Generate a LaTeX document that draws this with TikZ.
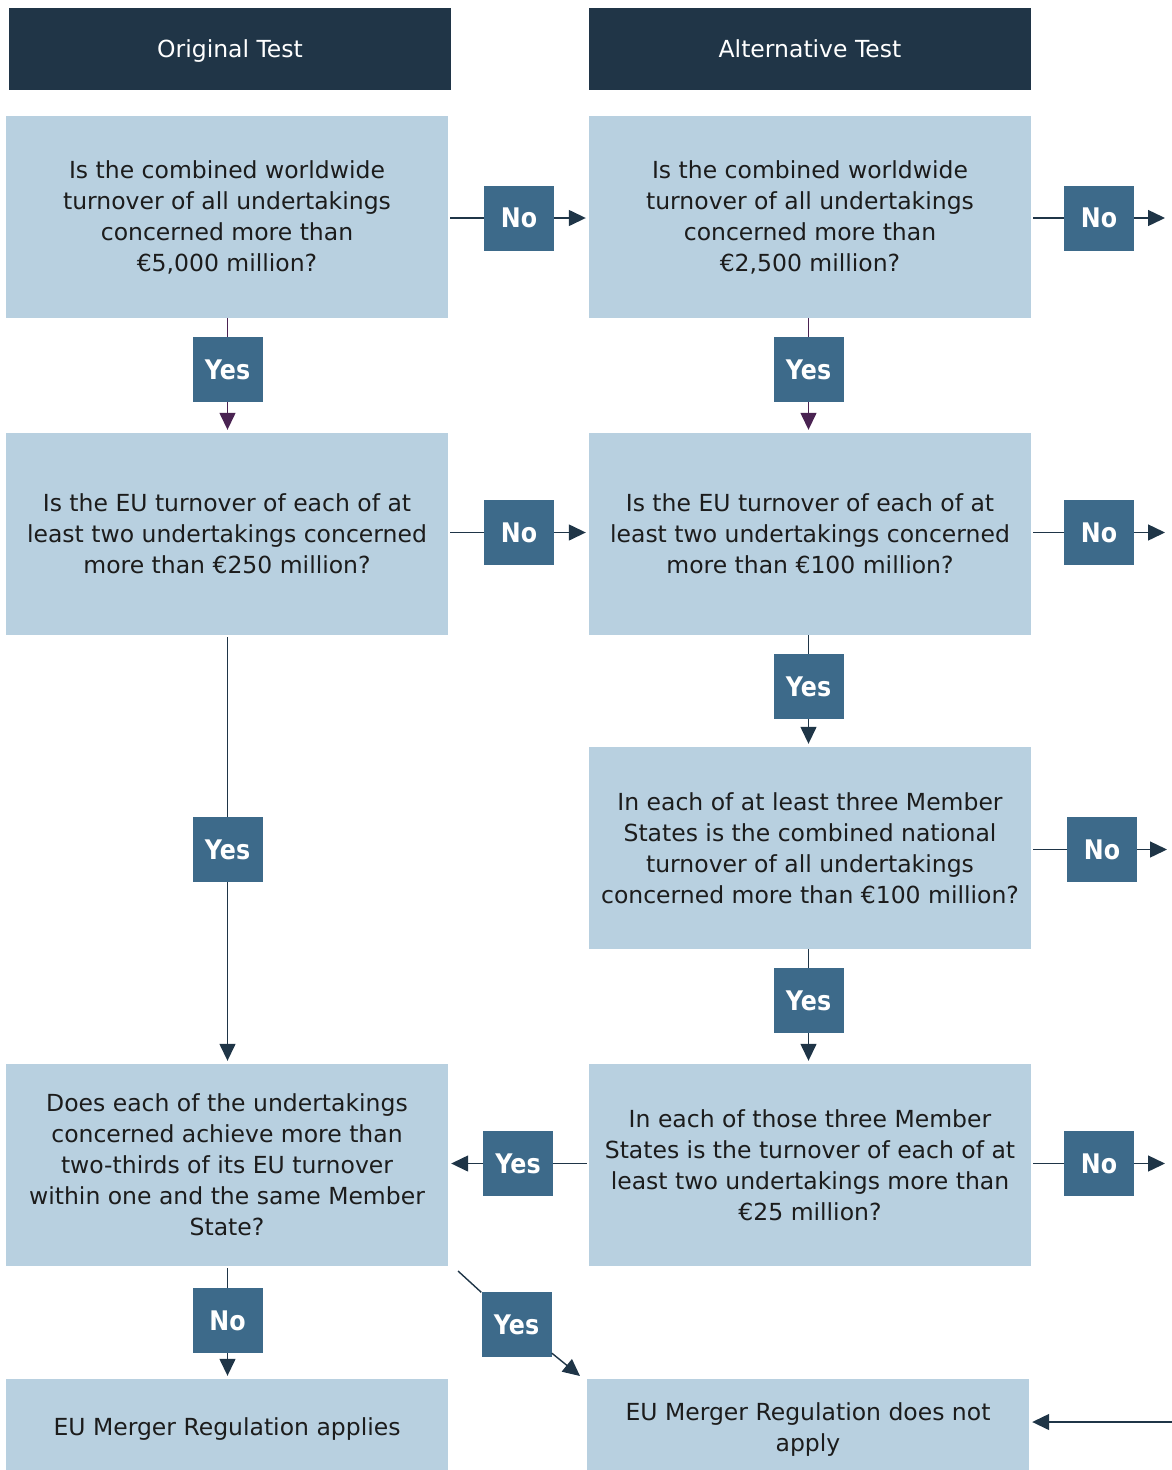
\documentclass[tikz,border=0pt]{standalone}
\usepackage{fontspec}
\setmainfont{DejaVu Sans}
\newfontfamily\labfont[FakeStretch=0.88]{DejaVu Sans Bold}
\usetikzlibrary{arrows.meta}
\definecolor{hdr}{HTML}{203547}
\definecolor{qfill}{HTML}{B8D0E0}
\definecolor{lab}{HTML}{3D6A8A}
\definecolor{purp}{HTML}{4A2352}
\definecolor{dark}{HTML}{1F3547}
\definecolor{txt}{HTML}{1C1C1C}
\tikzset{
  hbox/.style={fill=hdr, text=white, minimum width=442pt, minimum height=82pt, inner sep=0pt,
    text height=21pt, text depth=5pt, font=\fontsize{23.5pt}{31pt}\selectfont},
  qbox/.style={fill=qfill, text=txt, minimum width=442pt, minimum height=202pt, inner sep=0pt,
    align=center, font=\fontsize{23.5pt}{31pt}\selectfont},
  lbox/.style={fill=lab, text=white, minimum width=70pt, minimum height=65pt, inner sep=0pt,
    font=\labfont\fontsize{27pt}{30pt}\selectfont},
  ln/.style={draw=dark, line width=1.4pt, shorten <=2pt},
  arr/.style={draw=dark, line width=1.4pt, -{Triangle[length=17pt,width=16pt]}, shorten >=3pt},
  parr/.style={draw=purp, line width=1.4pt, -{Triangle[length=17pt,width=16pt]}, shorten >=3pt},
}
\begin{document}
\begin{tikzpicture}[x=1pt,y=-1pt]
\useasboundingbox (0,0) rectangle (1172,1470);
% headers
\node[hbox] (h1) at (230,49) {Original Test};
\node[hbox] (h2) at (810,49) {Alternative Test};
% question boxes
\node[qbox] (b1) at (227,217) {Is the combined worldwide\\turnover of all undertakings\\concerned more than\\€5,000 million?};
\node[qbox] (b2) at (810,217) {Is the combined worldwide\\turnover of all undertakings\\concerned more than\\€2,500 million?};
\node[qbox] (b3) at (227,534) {Is the EU turnover of each of at\\least two undertakings concerned\\more than €250 million?};
\node[qbox] (b4) at (810,534) {Is the EU turnover of each of at\\least two undertakings concerned\\more than €100 million?};
\node[qbox] (b5) at (810,848) {In each of at least three Member\\States is the combined national\\turnover of all undertakings\\concerned more than €100 million?};
\node[qbox] (b6) at (227,1165) {Does each of the undertakings\\concerned achieve more than\\two-thirds of its EU turnover\\within one and the same Member\\State?};
\node[qbox] (b7) at (810,1165) {In each of those three Member\\States is the turnover of each of at\\least two undertakings more than\\€25 million?};
\node[qbox, minimum height=91pt, text height=28pt, text depth=5.6pt] (b8) at (227,1424.5) {EU Merger Regulation applies};
\node[qbox, minimum height=91pt, text height=58.8pt, text depth=5.6pt] (b9) at (808,1424.5) {EU Merger Regulation does not\\apply};
% label boxes
\node[lbox] (n1) at (519,218) {No};
\node[lbox] (n2) at (1099,218) {No};
\node[lbox] (y1) at (227.5,369.5) {Yes};
\node[lbox] (y2) at (808.5,369.5) {Yes};
\node[lbox] (n3) at (519,532.5) {No};
\node[lbox] (n4) at (1099,532.5) {No};
\node[lbox] (y3) at (808.5,686.5) {Yes};
\node[lbox] (y4) at (227.5,849.5) {Yes};
\node[lbox] (n5) at (1102,849.5) {No};
\node[lbox] (y5) at (808.5,1000.5) {Yes};
\node[lbox] (n6) at (1099,1163.5) {No};
\node[lbox] (y6) at (518,1163.5) {Yes};
\node[lbox] (n7) at (227.5,1320.5) {No};
\node[lbox] (y7) at (516.5,1324.5) {Yes};
% free ends
\coordinate (e1) at (1168,218);
\coordinate (e2) at (1168,532.5);
\coordinate (e3) at (1170,849.5);
\coordinate (e4) at (1168,1163.5);
\coordinate (d1) at (458,1271);
\coordinate (d2) at (580,1376);
\coordinate (e5) at (1172,1422);
% connectors
\draw[ln] (b1.east |- n1) -- (n1.west);
\draw[arr] (n1.east) -- (b2.west |- n1);
\draw[ln] (b2.east |- n2) -- (n2.west);
\draw[arr] (n2.east) -- (e1);
\draw[draw=purp, line width=1.4pt] (b1.south -| y1) -- (y1.north);
\draw[parr] (y1.south) -- (b3.north -| y1);
\draw[draw=purp, line width=1.4pt] (b2.south -| y2) -- (y2.north);
\draw[parr] (y2.south) -- (b4.north -| y2);
\draw[ln] (b3.east |- n3) -- (n3.west);
\draw[arr] (n3.east) -- (b4.west |- n3);
\draw[ln] (b4.east |- n4) -- (n4.west);
\draw[arr] (n4.east) -- (e2);
\draw[ln, shorten <=0pt] (b4.south -| y3) -- (y3.north);
\draw[arr] (y3.south) -- (b5.north -| y3);
\draw[ln] (b3.south -| y4) -- (y4.north);
\draw[arr] (y4.south) -- (b6.north -| y4);
\draw[ln] (b5.east |- n5) -- (n5.west);
\draw[arr] (n5.east) -- (e3);
\draw[ln, shorten <=0pt] (b5.south -| y5) -- (y5.north);
\draw[arr] (y5.south) -- (b7.north -| y5);
\draw[ln] (b7.east |- n6) -- (n6.west);
\draw[arr] (n6.east) -- (e4);
\draw[ln] (b7.west |- y6) -- (y6.east);
\draw[arr] (y6.west) -- (b6.east |- y6);
\draw[ln] (b6.south -| n7) -- (n7.north);
\draw[arr] (n7.south) -- (b8.north -| n7);
\draw[ln, shorten <=0pt] (d1) -- (y7);
\draw[arr, shorten >=0pt] (y7) -- (d2);
\draw[arr] (e5) -- (b9.east |- e5);
\end{tikzpicture}
\end{document}
